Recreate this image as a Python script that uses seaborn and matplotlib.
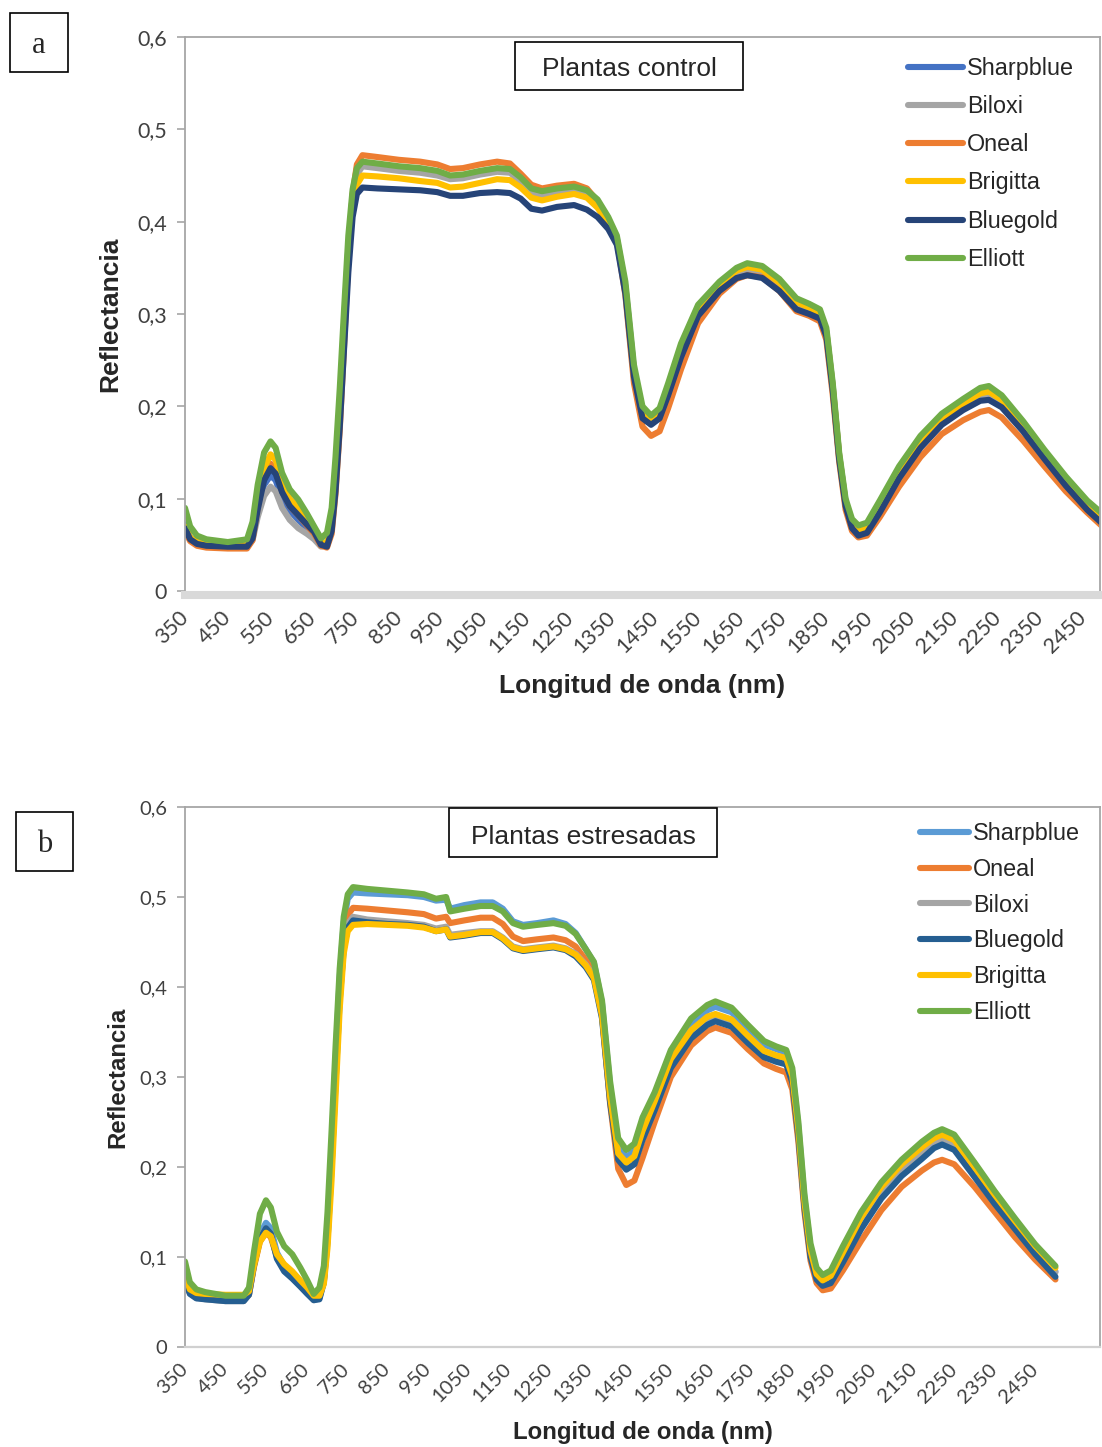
import matplotlib
matplotlib.use("Agg")
import matplotlib.pyplot as plt
import seaborn as sns
from matplotlib.patches import Rectangle

# ---------------- data: control plants ----------------
wavelength_control = [350, 362, 378, 400, 450, 495, 508, 520, 535, 550, 562, 577, 595, 615, 635, 652, 668, 682, 693, 702,
                      712, 722, 732, 742, 752, 765, 800, 850, 900, 940, 970, 1000, 1040, 1080, 1110, 1135, 1160, 1185, 1220, 1260,
                      1290, 1315, 1340, 1360, 1380, 1400, 1420, 1440, 1460, 1480, 1510, 1550, 1600, 1640, 1665, 1700, 1740, 1780, 1810, 1835,
                      1850, 1865, 1880, 1895, 1910, 1925, 1945, 1975, 2020, 2070, 2120, 2170, 2210, 2230, 2260, 2310, 2360, 2410, 2460, 2500]

sharpblue_control = [0.072, 0.058, 0.053, 0.051, 0.049, 0.050, 0.060, 0.090, 0.115, 0.125, 0.120, 0.100, 0.087, 0.077, 0.068, 0.060, 0.050, 0.052, 0.075, 0.125,
                     0.200, 0.290, 0.372, 0.428, 0.454, 0.462, 0.461, 0.458, 0.456, 0.453, 0.448, 0.449, 0.453, 0.456, 0.455, 0.446, 0.434, 0.431, 0.434, 0.436,
                     0.432, 0.420, 0.402, 0.382, 0.330, 0.240, 0.195, 0.187, 0.194, 0.220, 0.262, 0.305, 0.331, 0.346, 0.351, 0.348, 0.334, 0.313, 0.307, 0.301,
                     0.281, 0.222, 0.147, 0.097, 0.074, 0.067, 0.070, 0.093, 0.130, 0.163, 0.187, 0.202, 0.212, 0.214, 0.205, 0.178, 0.147, 0.118, 0.092, 0.077]

biloxi_control = [0.068, 0.056, 0.051, 0.049, 0.047, 0.048, 0.055, 0.080, 0.103, 0.113, 0.108, 0.090, 0.077, 0.068, 0.062, 0.056, 0.048, 0.050, 0.072, 0.120,
                  0.195, 0.285, 0.368, 0.425, 0.451, 0.460, 0.458, 0.455, 0.453, 0.450, 0.446, 0.447, 0.451, 0.454, 0.453, 0.444, 0.432, 0.429, 0.432, 0.434,
                  0.430, 0.418, 0.400, 0.380, 0.328, 0.238, 0.192, 0.184, 0.191, 0.217, 0.259, 0.302, 0.328, 0.343, 0.348, 0.345, 0.331, 0.310, 0.304, 0.298,
                  0.278, 0.219, 0.145, 0.095, 0.072, 0.065, 0.068, 0.090, 0.127, 0.160, 0.184, 0.199, 0.209, 0.211, 0.202, 0.175, 0.145, 0.116, 0.090, 0.075]

oneal_control = [0.065, 0.054, 0.049, 0.047, 0.046, 0.046, 0.055, 0.090, 0.125, 0.138, 0.132, 0.108, 0.092, 0.082, 0.071, 0.062, 0.049, 0.047, 0.062, 0.105,
                 0.175, 0.265, 0.360, 0.430, 0.462, 0.472, 0.470, 0.467, 0.465, 0.462, 0.457, 0.458, 0.462, 0.465, 0.463, 0.452, 0.440, 0.436, 0.439, 0.441,
                 0.436, 0.422, 0.402, 0.380, 0.320, 0.225, 0.178, 0.168, 0.173, 0.198, 0.240, 0.290, 0.322, 0.338, 0.342, 0.340, 0.325, 0.303, 0.298, 0.292,
                 0.272, 0.212, 0.140, 0.088, 0.065, 0.058, 0.060, 0.080, 0.113, 0.145, 0.170, 0.185, 0.194, 0.196, 0.188, 0.163, 0.135, 0.108, 0.085, 0.068]

brigitta_control = [0.070, 0.058, 0.053, 0.051, 0.049, 0.050, 0.060, 0.095, 0.133, 0.148, 0.142, 0.118, 0.100, 0.090, 0.076, 0.066, 0.052, 0.052, 0.072, 0.122,
                    0.195, 0.280, 0.360, 0.415, 0.440, 0.450, 0.449, 0.447, 0.444, 0.442, 0.437, 0.438, 0.442, 0.446, 0.445, 0.437, 0.426, 0.423, 0.427, 0.430,
                    0.426, 0.415, 0.398, 0.380, 0.328, 0.238, 0.192, 0.185, 0.193, 0.220, 0.262, 0.306, 0.332, 0.347, 0.351, 0.348, 0.334, 0.313, 0.307, 0.301,
                    0.281, 0.221, 0.147, 0.096, 0.073, 0.066, 0.069, 0.092, 0.130, 0.163, 0.187, 0.203, 0.214, 0.216, 0.207, 0.180, 0.150, 0.121, 0.095, 0.078]

bluegold_control = [0.068, 0.056, 0.051, 0.049, 0.048, 0.048, 0.057, 0.088, 0.120, 0.133, 0.127, 0.107, 0.092, 0.082, 0.072, 0.064, 0.050, 0.048, 0.065, 0.108,
                    0.178, 0.262, 0.345, 0.405, 0.430, 0.437, 0.436, 0.435, 0.434, 0.432, 0.428, 0.428, 0.431, 0.432, 0.431, 0.425, 0.414, 0.412, 0.416, 0.418,
                    0.413, 0.405, 0.392, 0.375, 0.322, 0.232, 0.187, 0.180, 0.187, 0.212, 0.253, 0.298, 0.325, 0.339, 0.342, 0.339, 0.325, 0.305, 0.300, 0.295,
                    0.276, 0.217, 0.143, 0.092, 0.068, 0.060, 0.063, 0.085, 0.122, 0.155, 0.180, 0.196, 0.206, 0.207, 0.199, 0.173, 0.143, 0.114, 0.088, 0.071]

elliott_control = [0.090, 0.070, 0.060, 0.056, 0.053, 0.056, 0.075, 0.115, 0.150, 0.162, 0.155, 0.128, 0.110, 0.099, 0.084, 0.070, 0.057, 0.063, 0.090, 0.145,
                   0.220, 0.305, 0.385, 0.435, 0.458, 0.465, 0.463, 0.460, 0.458, 0.455, 0.450, 0.451, 0.455, 0.458, 0.457, 0.448, 0.436, 0.433, 0.436, 0.438,
                   0.434, 0.424, 0.405, 0.385, 0.335, 0.245, 0.200, 0.190, 0.198, 0.225, 0.268, 0.310, 0.335, 0.350, 0.355, 0.352, 0.338, 0.317, 0.311, 0.305,
                   0.285, 0.225, 0.150, 0.100, 0.078, 0.071, 0.074, 0.098, 0.135, 0.168, 0.192, 0.208, 0.220, 0.222, 0.212, 0.184, 0.153, 0.124, 0.098, 0.082]

# ---------------- data: stressed plants ----------------
wavelength_stressed = [350, 362, 378, 400, 450, 495, 508, 520, 535, 550, 562, 577, 595, 615, 635, 652, 668, 682, 693, 702,
                       712, 722, 732, 742, 752, 765, 800, 850, 900, 940, 970, 995, 1005, 1040, 1080, 1110, 1135, 1160, 1185, 1220,
                       1260, 1290, 1315, 1340, 1360, 1380, 1400, 1420, 1440, 1460, 1480, 1510, 1550, 1600, 1640, 1660, 1700, 1740, 1780, 1810,
                       1835, 1850, 1865, 1880, 1895, 1910, 1925, 1945, 1975, 2020, 2070, 2120, 2170, 2200, 2220, 2250, 2300, 2350, 2400, 2450, 2500]

sharpblue_stressed = [0.078, 0.062, 0.057, 0.055, 0.052, 0.053, 0.060, 0.092, 0.125, 0.138, 0.132, 0.105, 0.090, 0.081, 0.071, 0.063, 0.053, 0.056, 0.078, 0.130,
                      0.220, 0.320, 0.410, 0.472, 0.498, 0.505, 0.504, 0.503, 0.502, 0.500, 0.496, 0.497, 0.487, 0.491, 0.494, 0.494, 0.487, 0.473, 0.469, 0.471,
                      0.474, 0.470, 0.460, 0.442, 0.427, 0.382, 0.290, 0.225, 0.211, 0.218, 0.247, 0.278, 0.325, 0.358, 0.374, 0.378, 0.372, 0.354, 0.336, 0.331,
                      0.327, 0.306, 0.245, 0.165, 0.110, 0.083, 0.075, 0.080, 0.106, 0.143, 0.175, 0.200, 0.219, 0.228, 0.232, 0.226, 0.196, 0.165, 0.136, 0.107, 0.084]

oneal_stressed = [0.075, 0.060, 0.055, 0.054, 0.053, 0.053, 0.058, 0.088, 0.117, 0.127, 0.122, 0.100, 0.088, 0.080, 0.070, 0.062, 0.053, 0.055, 0.075, 0.125,
                  0.210, 0.305, 0.395, 0.455, 0.480, 0.488, 0.487, 0.485, 0.483, 0.481, 0.476, 0.478, 0.471, 0.474, 0.477, 0.477, 0.470, 0.456, 0.451, 0.453,
                  0.455, 0.452, 0.445, 0.430, 0.415, 0.368, 0.270, 0.198, 0.180, 0.185, 0.210, 0.250, 0.300, 0.335, 0.351, 0.355, 0.349, 0.331, 0.315, 0.309,
                  0.305, 0.286, 0.228, 0.150, 0.096, 0.071, 0.063, 0.065, 0.085, 0.118, 0.152, 0.178, 0.196, 0.205, 0.208, 0.203, 0.178, 0.150, 0.122, 0.097, 0.075]

biloxi_stressed = [0.076, 0.060, 0.055, 0.053, 0.051, 0.051, 0.058, 0.090, 0.121, 0.132, 0.126, 0.100, 0.086, 0.077, 0.068, 0.060, 0.052, 0.054, 0.074, 0.122,
                   0.205, 0.300, 0.390, 0.445, 0.470, 0.478, 0.475, 0.473, 0.471, 0.469, 0.465, 0.467, 0.458, 0.460, 0.462, 0.462, 0.455, 0.445, 0.442, 0.444,
                   0.446, 0.443, 0.437, 0.425, 0.412, 0.370, 0.278, 0.215, 0.204, 0.210, 0.238, 0.270, 0.315, 0.347, 0.362, 0.366, 0.360, 0.342, 0.326, 0.321,
                   0.318, 0.298, 0.238, 0.158, 0.104, 0.078, 0.070, 0.074, 0.099, 0.137, 0.171, 0.196, 0.215, 0.228, 0.232, 0.226, 0.195, 0.164, 0.135, 0.107, 0.083]

bluegold_stressed = [0.074, 0.059, 0.054, 0.053, 0.051, 0.051, 0.058, 0.090, 0.120, 0.132, 0.126, 0.098, 0.084, 0.076, 0.067, 0.059, 0.052, 0.053, 0.072, 0.118,
                     0.200, 0.295, 0.385, 0.442, 0.466, 0.474, 0.472, 0.470, 0.469, 0.467, 0.462, 0.464, 0.455, 0.457, 0.460, 0.460, 0.453, 0.443, 0.440, 0.442,
                     0.444, 0.441, 0.434, 0.422, 0.408, 0.365, 0.272, 0.208, 0.197, 0.203, 0.230, 0.263, 0.310, 0.343, 0.358, 0.362, 0.356, 0.338, 0.322, 0.317,
                     0.314, 0.294, 0.234, 0.155, 0.100, 0.075, 0.068, 0.071, 0.094, 0.131, 0.165, 0.190, 0.209, 0.221, 0.225, 0.219, 0.189, 0.159, 0.131, 0.103, 0.078]

brigitta_stressed = [0.080, 0.064, 0.060, 0.059, 0.058, 0.058, 0.062, 0.090, 0.117, 0.127, 0.123, 0.103, 0.092, 0.084, 0.074, 0.066, 0.057, 0.057, 0.070, 0.110,
                     0.185, 0.280, 0.375, 0.437, 0.462, 0.469, 0.470, 0.469, 0.468, 0.466, 0.462, 0.464, 0.456, 0.458, 0.461, 0.461, 0.454, 0.444, 0.441, 0.443,
                     0.445, 0.442, 0.436, 0.424, 0.410, 0.368, 0.278, 0.215, 0.205, 0.212, 0.240, 0.273, 0.320, 0.352, 0.367, 0.370, 0.364, 0.346, 0.329, 0.324,
                     0.321, 0.301, 0.241, 0.161, 0.107, 0.081, 0.074, 0.079, 0.105, 0.144, 0.178, 0.203, 0.222, 0.232, 0.236, 0.230, 0.200, 0.169, 0.140, 0.112, 0.088]

elliott_stressed = [0.095, 0.072, 0.064, 0.061, 0.057, 0.057, 0.066, 0.105, 0.148, 0.163, 0.155, 0.128, 0.112, 0.103, 0.088, 0.074, 0.059, 0.066, 0.090, 0.150,
                    0.240, 0.335, 0.420, 0.478, 0.503, 0.511, 0.509, 0.507, 0.505, 0.503, 0.498, 0.500, 0.484, 0.487, 0.490, 0.490, 0.484, 0.471, 0.467, 0.469,
                    0.471, 0.468, 0.459, 0.442, 0.428, 0.385, 0.295, 0.232, 0.219, 0.226, 0.255, 0.283, 0.330, 0.365, 0.380, 0.384, 0.377, 0.358, 0.340, 0.334,
                    0.330, 0.310, 0.250, 0.170, 0.115, 0.088, 0.080, 0.085, 0.112, 0.150, 0.183, 0.208, 0.228, 0.238, 0.242, 0.236, 0.205, 0.173, 0.143, 0.114, 0.090]

# ---------------- axis ticks ----------------
x_ticks = [350, 450, 550, 650, 750, 850, 950, 1050, 1150, 1250, 1350, 1450, 1550, 1650, 1750, 1850, 1950, 2050, 2150, 2250, 2350, 2450]
y_ticks = [0, 0.1, 0.2, 0.3, 0.4, 0.5, 0.6]
y_tick_labels = ["0", "0,1", "0,2", "0,3", "0,4", "0,5", "0,6"]

control_series = [
    ("Sharpblue", sharpblue_control, "#4472C4"),
    ("Biloxi", biloxi_control, "#A5A5A5"),
    ("Oneal", oneal_control, "#ED7D31"),
    ("Brigitta", brigitta_control, "#FFC000"),
    ("Bluegold", bluegold_control, "#264478"),
    ("Elliott", elliott_control, "#70AD47"),
]
stressed_series = [
    ("Sharpblue", sharpblue_stressed, "#5B9BD5"),
    ("Oneal", oneal_stressed, "#ED7D31"),
    ("Biloxi", biloxi_stressed, "#A5A5A5"),
    ("Bluegold", bluegold_stressed, "#255E91"),
    ("Brigitta", brigitta_stressed, "#FFC000"),
    ("Elliott", elliott_stressed, "#70AD47"),
]

sns.set_style("white")
plt.rcParams["font.family"] = ["Liberation Sans", "DejaVu Sans"]

W, H = 1102, 1447
fig = plt.figure(figsize=(W / 100, H / 100), dpi=100)


def fx(px):
    return px / W


def fy(py):
    return 1 - py / H


def panel(rect_px, wl, series, xmax, tick_size, label_size, ylab_x, xlab_y,
          leg_xy, leg_spacing, leg_handle, thick_base):
    x0, y0, x1, y1 = rect_px
    ax = fig.add_axes([fx(x0), fy(y1), fx(x1) - fx(x0), fy(y0) - fy(y1)])
    for name, vals, col in series:
        sns.lineplot(x=wl, y=vals, ax=ax, color=col, linewidth=4.4, label=name,
                     solid_capstyle="round", solid_joinstyle="round")
    # frame first: moving a spine rebuilds the tick labels
    for side in ("left", "top", "right"):
        ax.spines[side].set_color("#A6A6A6")
        ax.spines[side].set_linewidth(1.3)
    if thick_base:
        ax.spines["bottom"].set_color("#D9D9D9")
        ax.spines["bottom"].set_linewidth(5.8)
        ax.spines["bottom"].set_position(("outward", 2.9))
    else:
        ax.spines["bottom"].set_color("#D0D0D0")
        ax.spines["bottom"].set_linewidth(1.6)

    ax.set_xlim(350, xmax)
    ax.set_ylim(0, 0.6)
    ax.set_yticks(y_ticks)
    ax.set_yticklabels(y_tick_labels)
    ax.set_xticks(x_ticks)
    ax.set_xticklabels([str(t) for t in x_ticks])
    ax.tick_params(axis="y", which="major", length=6, width=1.2, color="#A6A6A6",
                   labelsize=tick_size, labelcolor="#404040", pad=7, left=True)
    ax.tick_params(axis="x", which="major", length=0, labelsize=tick_size,
                   labelcolor="#404040", pad=14, bottom=True, labelrotation=45)
    for lab in ax.get_xticklabels():
        lab.set_ha("right")
        lab.set_va("center")
        lab.set_rotation_mode("anchor")
    for lab in ax.get_xticklabels() + ax.get_yticklabels():
        lab.set_fontfamily(["Lato", "DejaVu Sans"])

    ax.set_ylabel("Reflectancia", fontsize=label_size, fontweight="bold")
    ax.yaxis.set_label_coords((ylab_x - x0) / (x1 - x0), 0.5)
    ax.yaxis.label.set_va("center")
    ax.set_xlabel("Longitud de onda (nm)", fontsize=label_size, fontweight="bold")
    ax.xaxis.set_label_coords(0.5, (y1 - xlab_y) / (y1 - y0))
    ax.xaxis.label.set_va("center")
    ax.legend(loc="upper left", bbox_to_anchor=(fx(leg_xy[0]), fy(leg_xy[1])),
              bbox_transform=fig.transFigure, frameon=False, fontsize=16.8,
              handlelength=leg_handle, handletextpad=0.18, labelspacing=leg_spacing,
              borderpad=0, borderaxespad=0)
    return ax


def boxed_text(box_px, text, size, family, dy=0):
    x0, y0, x1, y1 = box_px
    fig.patches.append(Rectangle((fx(x0), fy(y1)), fx(x1) - fx(x0), fy(y0) - fy(y1),
                                 transform=fig.transFigure, fill=False,
                                 edgecolor="black", linewidth=1.2))
    fig.text(fx((x0 + x1) / 2), fy((y0 + y1) / 2 + dy), text, ha="center", va="center",
             fontsize=size, family=family)


panel((185, 37, 1100, 591), wavelength_control, control_series, 2490,
      15.5, 19, 110, 686, (908, 57), 0.65, 2.35, True)
panel((185, 807, 1100, 1347), wavelength_stressed, stressed_series, 2610,
      14.5, 17.3, 118, 1433, (920, 822), 0.55, 2.1, False)

boxed_text((515, 42, 743, 90), "Plantas control", 19, ["Liberation Sans", "DejaVu Sans"], dy=3)
boxed_text((449, 808, 717, 857), "Plantas estresadas", 19, ["Liberation Sans", "DejaVu Sans"], dy=4)
boxed_text((10, 13, 68, 72), "a", 22, ["Liberation Serif", "DejaVu Serif"], dy=3)
boxed_text((16, 812, 73, 871), "b", 22, ["Liberation Serif", "DejaVu Serif"], dy=3)

fig.savefig("out.png", dpi=100, facecolor="white")
